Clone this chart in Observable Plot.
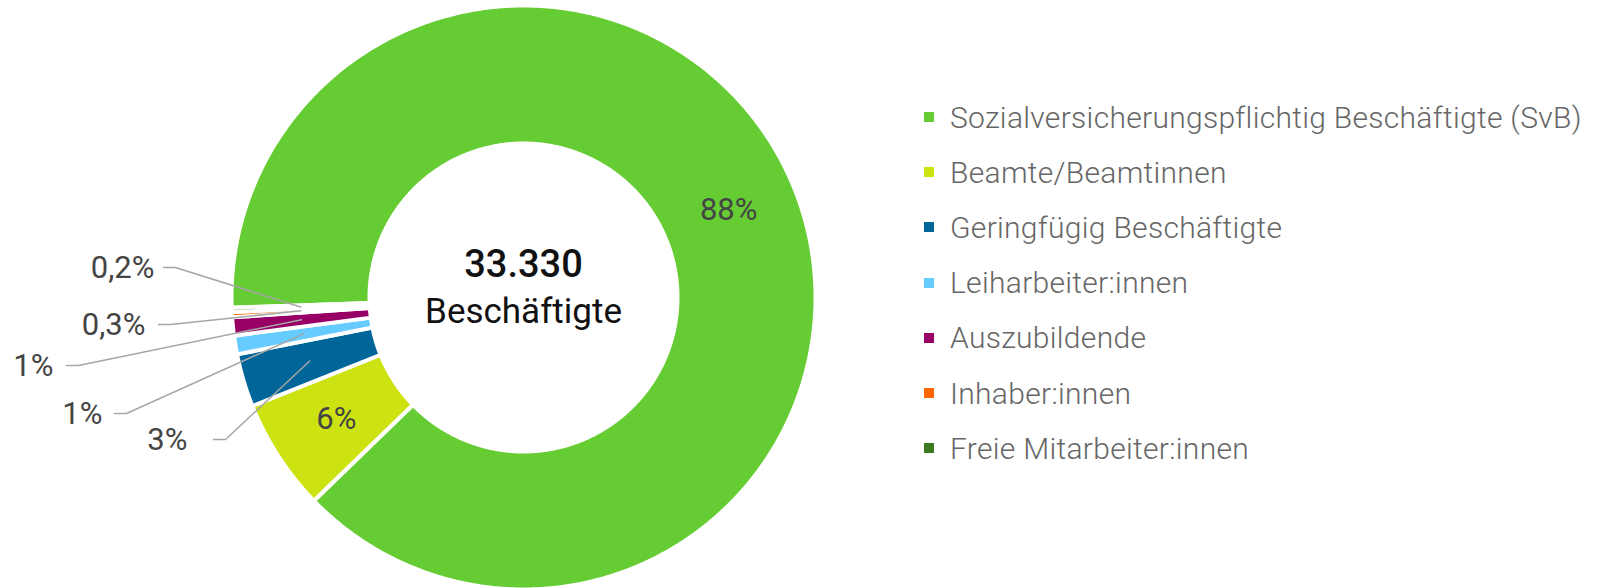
<!DOCTYPE html>
<html>
<head>
<meta charset="utf-8">
<script src="https://cdn.jsdelivr.net/npm/d3@7"></script>
<script src="https://cdn.jsdelivr.net/npm/@observablehq/plot@0.6"></script>
<style>
  html, body { margin: 0; padding: 0; background: #fff; }
  #wrap { position: relative; width: 1597px; height: 588px; font-family: Roboto, "Noto Sans", sans-serif; }
  #chart { position: absolute; left: 0; top: 0; }
  #legend { position: absolute; left: 924px; top: 89.5px; }
  .row { display: flex; align-items: center; height: 55.2px; }
  .sw { width: 10px; height: 10px; margin-right: 16px; flex: none; }
  .lab { font-size: 30px; font-weight: 300; color: #666; white-space: nowrap; letter-spacing: 0.3px; }
</style>
</head>
<body>
<div id="wrap"><div id="chart"></div><div id="legend"></div></div>
<script>
// ---- data ----
const categories = [
  "Sozialversicherungspflichtig Beschäftigte (SvB)",
  "Beamte/Beamtinnen",
  "Geringfügig Beschäftigte",
  "Leiharbeiter:innen",
  "Auszubildende",
  "Inhaber:innen",
  "Freie Mitarbeiter:innen"
];
const counts = [29430, 2065, 980, 345, 335, 95, 80];
const colors = ["#66cc33", "#cde311", "#006699", "#66ccff", "#990066", "#ff6600", "#3b7a1f"];
const centerLabel = "Beschäftigte";

// ---- layout (pixels relative to donut centre) ----
const W = 1597, H = 588, CX = 523, CY = 297;
const R_OUT = 292, R_IN = 154, R_MID = 223, START = 268; // compass degrees
// leader label layout for the small slices: elbow point and text end
const leaderLayout = {
  "Geringfügig Beschäftigte": {ex: -298, ey: 142, tx: -336},
  "Leiharbeiter:innen":       {ex: -397, ey: 116, tx: -421},
  "Auszubildende":            {ex: -445, ey: 68,  tx: -470},
  "Inhaber:innen":            {ex: -353, ey: 27,  tx: -378},
  "Freie Mitarbeiter:innen":  {ex: -348, ey: -30, tx: -369}
};

const total = d3.sum(counts);
const de = d3.formatLocale({decimal: ",", thousands: ".", grouping: [3], currency: ["", " €"]});
const fmtTotal = de.format(",");
const fmtPct = p => p < 1 ? de.format(".1f")(p) + "%" : Math.round(p) + "%";

const rad = d => d * Math.PI / 180;
const pt = (r, deg) => ({x: r * Math.sin(rad(deg)), y: -r * Math.cos(rad(deg))});

// slices
let acc = START;
const slices = categories.map((c, i) => {
  const span = counts[i] / total * 360;
  const s = {cat: c, a0: acc, a1: acc + span, share: counts[i] / total * 100};
  acc += span;
  s.mid = (s.a0 + s.a1) / 2;
  return s;
});

const polys = [];
for (const s of slices) {
  const n = Math.max(2, Math.ceil((s.a1 - s.a0) / 0.4));
  for (let k = 0; k <= n; k++) polys.push({cat: s.cat, ...pt(R_OUT, s.a0 + (s.a1 - s.a0) * k / n)});
  for (let k = n; k >= 0; k--) polys.push({cat: s.cat, ...pt(R_IN, s.a0 + (s.a1 - s.a0) * k / n)});
}

const inside = slices.filter(s => s.share >= 5).map(s => ({...pt(R_MID, s.mid), t: fmtPct(s.share)}));
const outside = slices.filter(s => s.share < 5);
const leaders = [];
const outLabels = [];
for (const s of outside) {
  const L = leaderLayout[s.cat];
  leaders.push({cat: s.cat, x: L.ex - 12, y: L.ey});
  leaders.push({cat: s.cat, x: L.ex, y: L.ey});
  leaders.push({cat: s.cat, ...pt(R_MID, s.mid)});
  outLabels.push({x: L.tx, y: L.ey + 1, t: fmtPct(s.share)});
}

const chart = Plot.plot({
  width: W, height: H, margin: 0,
  x: {domain: [-CX, W - CX], range: [0, W], axis: null},
  y: {domain: [-CY, H - CY], range: [0, H], axis: null},
  color: {domain: categories, range: colors},
  style: {background: "transparent", fontFamily: "Roboto, sans-serif"},
  marks: [
    Plot.line(polys, {x: "x", y: "y", z: "cat", fill: "cat", stroke: "white", strokeWidth: 4, curve: "linear-closed"}),
    Plot.line(leaders, {x: "x", y: "y", z: "cat", stroke: "#a6a6a6", strokeWidth: 1.5}),
    Plot.text(inside, {x: "x", y: "y", text: "t", fontSize: 31, fontWeight: 400, fill: "#444"}),
    Plot.text(outLabels, {x: "x", y: "y", text: "t", fontSize: 31, fontWeight: 400, fill: "#444", textAnchor: "end"}),
    Plot.text([{x: 0, y: 0, t: fmtTotal(total)}], {x: "x", y: "y", text: "t", dy: -33, fontSize: 38, fontWeight: 500, fill: "#111"}),
    Plot.text([{x: 0, y: 0, t: centerLabel}], {x: "x", y: "y", text: "t", dy: 14, fontSize: 35, fontWeight: 400, fill: "#111"})
  ]
});
document.getElementById("chart").appendChild(chart);

const leg = document.getElementById("legend");
categories.forEach((c, i) => {
  const row = document.createElement("div");
  row.className = "row";
  const sw = document.createElement("div");
  sw.className = "sw";
  sw.style.background = colors[i];
  const lab = document.createElement("div");
  lab.className = "lab";
  lab.textContent = c;
  row.appendChild(sw); row.appendChild(lab);
  leg.appendChild(row);
});
</script>
</body>
</html>
